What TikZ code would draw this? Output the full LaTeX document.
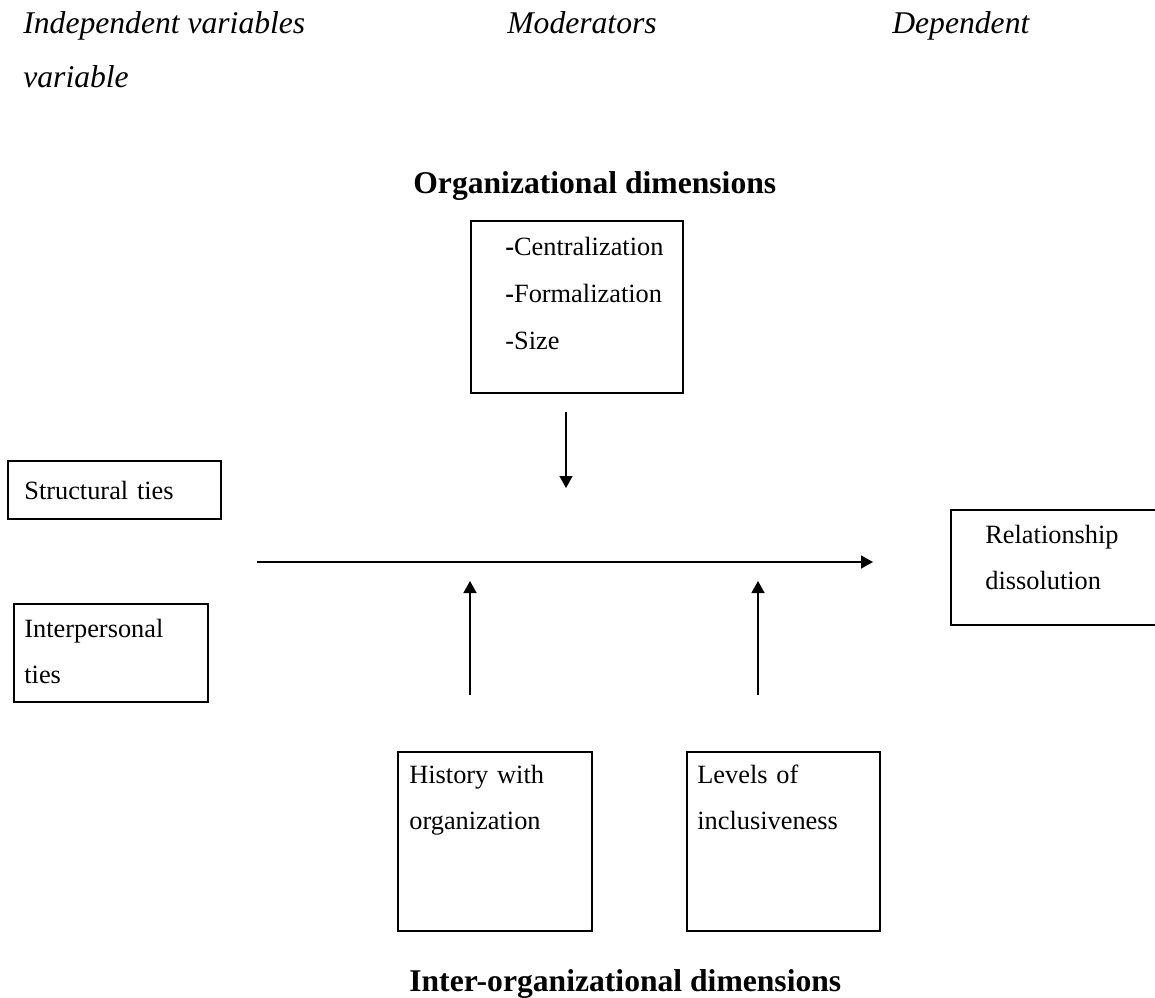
\documentclass[tikz,border=0pt]{standalone}
\usepackage{fontspec}
\setmainfont{Liberation Serif}
\usetikzlibrary{arrows.meta}

\begin{document}
\begin{tikzpicture}[x=0.02cm, y=-0.02cm, >={Triangle[length=0.24cm, width=0.26cm]},
    box/.style={draw, line width=1pt, inner sep=0pt, anchor=north west},
    txt/.style={anchor=base west, inner sep=0pt, text width=4cm, align=left,
        font=\fontsize{15pt}{26.2pt}\selectfont},
    head/.style={anchor=base west, inner sep=0pt, font=\fontsize{18pt}{22pt}\selectfont\itshape},
    dim/.style={anchor=base west, inner sep=0pt, font=\fontsize{18pt}{22pt}\selectfont\bfseries},
    link/.style={->, line width=0.8pt}]
    \useasboundingbox (0,0) rectangle (1155,997);

    % 1. Tieu de cac cot
    \node[head] (indep) at (23,34) {Independent variables};
    \node[head] (moder) at (507,34) {Moderators};
    \node[head] (depen) at (892,34) {Dependent};
    \node[head] (varia) at (23,88) {variable};

    % 2. Cac khung
    \node[box, minimum width=4.26cm, minimum height=1.16cm] (structbox) at (7,460) {};
    \node[box, minimum width=3.88cm, minimum height=1.96cm] (interbox) at (13,603) {};
    \node[box, minimum width=4.24cm, minimum height=3.44cm] (orgbox) at (470,220) {};
    \node[box, minimum width=4.30cm, minimum height=2.30cm] (relbox) at (950,509) {};
    \node[box, minimum width=3.88cm, minimum height=3.58cm] (histbox) at (397,751) {};
    \node[box, minimum width=3.86cm, minimum height=3.58cm] (levbox) at (686,751) {};

    % 3. Noi dung trong khung
    \node[txt] (structtxt) at (24,499) {Structural ties};
    \node[txt] (intertxt) at (24,637) {Interpersonal\\ties};
    \node[txt, font=\fontsize{15pt}{26.8pt}\selectfont] (orgtxt) at (505,255)
        {\textbf{-}Centralization\\\textbf{-}Formalization\\-Size};
    \node[txt] (reltxt) at (985,543) {Relationship\\dissolution};
    \node[txt] (histtxt) at (409,783) {History with\\organization};
    \node[txt] (levtxt) at (697,783) {Levels of\\inclusiveness};

    % 4. Nhan nhom
    \node[dim] (orgdim) at (413,193) {Organizational dimensions};
    \node[dim] (interdim) at (409,991) {Inter-organizational dimensions};

    % 5. Cac mui ten
    \coordinate (orgtail) at (566,412);
    \coordinate (orgtip) at (566,488);
    \coordinate (maintail) at (257,562);
    \coordinate (maintip) at (873,562);
    \coordinate (histtail) at (470,695);
    \coordinate (histtip) at (470,581);
    \coordinate (levtail) at (758,695);
    \coordinate (levtip) at (758,581);
    \draw[link] (orgtail) -- (orgtip);
    \draw[link] (maintail) -- (maintip);
    \draw[link] (histtail) -- (histtip);
    \draw[link] (levtail) -- (levtip);
\end{tikzpicture}
\end{document}
